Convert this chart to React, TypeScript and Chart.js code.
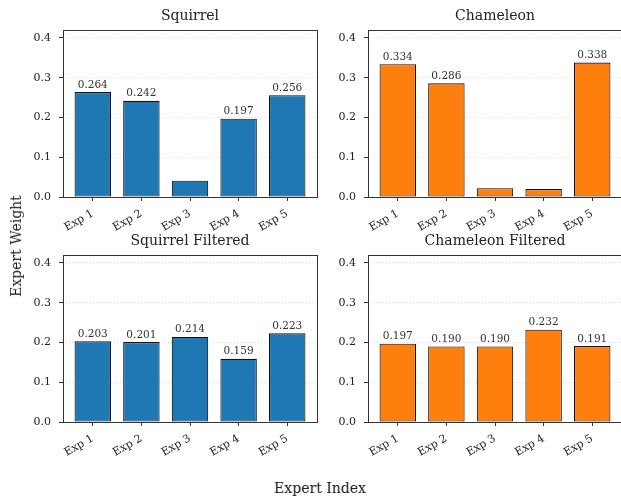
import React, { useEffect, useRef } from "react";
import { Chart, registerables } from "chart.js";

Chart.register(...registerables);

const categories = ["Exp 1", "Exp 2", "Exp 3", "Exp 4", "Exp 5"];
const squirrel = [0.264, 0.242, 0.041, 0.197, 0.256];
const chameleon = [0.334, 0.286, 0.022, 0.020, 0.338];
const squirrelFiltered = [0.203, 0.201, 0.214, 0.159, 0.223];
const chameleonFiltered = [0.197, 0.19, 0.19, 0.232, 0.191];
const yTicks = [0, 0.1, 0.2, 0.3, 0.4];
const Y_MAX = 0.42;
const X_MIN = -0.6125;
const X_MAX = 4.6125;
const LABEL_MIN = 0.05;

const FONT = "'DejaVu Serif', serif";
const BLUE = "#1f77b4";
const ORANGE = "#ff7f0e";

type PanelProps = {
  title: string;
  values: number[];
  color: string;
  left: number;
  top: number;
  width: number;
  height: number;
  padRight: number;
};

const framePlugin = {
  id: "frameAndLabels",
  afterDatasetsDraw(chart: any) {
    const ctx = chart.ctx;
    const meta = chart.getDatasetMeta(0);
    const data = chart.data.datasets[0].data as any[];
    ctx.save();
    ctx.font = `10.5px ${FONT}`;
    ctx.fillStyle = "#333";
    ctx.textAlign = "center";
    ctx.textBaseline = "bottom";
    meta.data.forEach((bar: any, i: number) => {
      const v = data[i].y;
      if (v > LABEL_MIN) {
        ctx.fillText(v.toFixed(3), bar.x, bar.y - 2);
      }
    });
    ctx.restore();
  },
  afterDraw(chart: any, _args: any, opts: any) {
    const ctx = chart.ctx;
    const a = chart.chartArea;
    ctx.save();
    ctx.strokeStyle = "#333";
    ctx.lineWidth = 1;
    const l = Math.round(a.left) + 0.5;
    const t = Math.round(a.top) + 0.5;
    const r = Math.round(a.right) + 0.5;
    const b = Math.round(a.bottom) + 0.5;
    ctx.strokeRect(l, t, r - l, b - t);
    ctx.font = `14px ${FONT}`;
    ctx.fillStyle = "#222";
    ctx.textAlign = "center";
    ctx.textBaseline = "alphabetic";
    ctx.fillText(opts.title, (a.left + a.right) / 2, a.top - 10);
    ctx.restore();
  },
};

function Panel({ title, values, color, left, top, width, height, padRight }: PanelProps) {
  const ref = useRef<HTMLCanvasElement | null>(null);
  useEffect(() => {
    if (!ref.current) return;
    const chart = new Chart(ref.current, {
      type: "bar",
      data: {
        datasets: [
          {
            data: values.map((v, i) => ({ x: i, y: v })),
            backgroundColor: color,
            borderColor: "#111",
            borderWidth: 1.1,
            borderSkipped: false,
            barPercentage: 0.75,
            categoryPercentage: 1,
          },
        ],
      },
      options: {
        animation: false,
        responsive: false,
        maintainAspectRatio: false,
        layout: { padding: { top: 30, right: padRight, left: 0, bottom: 0 }, autoPadding: false },
        plugins: {
          legend: { display: false },
          tooltip: { enabled: false },
          title: { display: false },
          frameAndLabels: { title },
        } as any,
        scales: {
          x: {
            type: "linear",
            min: X_MIN,
            max: X_MAX,
            offset: false,
            bounds: "data",
            afterBuildTicks: (scale: any) => {
              scale.ticks = categories.map((_, i) => ({ value: i }));
            },
            afterFit: (scale: any) => {
              scale.height = height - 197;
            },
            ticks: {
              autoSkip: false,
              includeBounds: false,
              stepSize: 1,
              minRotation: 30,
              maxRotation: 30,
              padding: 6,
              color: "#222",
              font: { family: FONT, size: 11 },
              callback: (v: any) => categories[Math.round(Number(v))] ?? "",
            },
            grid: {
              display: true,
              offset: false,
              drawOnChartArea: false,
              drawTicks: true,
              tickLength: 4,
              tickColor: "#333",
              tickWidth: 1,
            },
            border: { display: false },
          },
          y: {
            type: "linear",
            min: 0,
            max: Y_MAX,
            afterBuildTicks: (scale: any) => {
              scale.ticks = yTicks.map((v) => ({ value: v }));
            },
            afterFit: (scale: any) => {
              scale.width = 63;
            },
            ticks: {
              padding: 8,
              color: "#222",
              font: { family: FONT, size: 11 },
              callback: (v: any) => Number(v).toFixed(1),
            },
            grid: {
              display: true,
              drawOnChartArea: true,
              drawTicks: true,
              tickLength: 4,
              color: "rgba(0,0,0,0.18)",
              lineWidth: 0.8,
              tickColor: "#333",
              tickWidth: 1,
            },
            border: { display: false, dash: [1, 2] },
          },
        },
      },
      plugins: [framePlugin],
    } as any);
    return () => chart.destroy();
  }, [title, values, color, height, padRight]);

  return (
    <canvas
      ref={ref}
      width={width}
      height={height}
      style={{ position: "absolute", left, top, width, height }}
    />
  );
}

export default function App() {
  const H = 240;
  return (
    <div
      style={{
        position: "fixed",
        left: 0,
        top: 0,
        width: 621,
        height: 498,
        overflow: "hidden",
        background: "#fff",
      }}
    >
      <Panel title="Squirrel" values={squirrel} color={BLUE} left={0} top={0} width={318} height={H} padRight={1} />
      <Panel title="Chameleon" values={chameleon} color={ORANGE} left={305} top={0} width={317} height={H} padRight={0} />
      <Panel title="Squirrel Filtered" values={squirrelFiltered} color={BLUE} left={0} top={225} width={318} height={H} padRight={1} />
      <Panel title="Chameleon Filtered" values={chameleonFiltered} color={ORANGE} left={305} top={225} width={317} height={H} padRight={0} />
      <div
        style={{
          position: "absolute",
          left: 16,
          top: 246,
          transform: "translate(-50%, -50%) rotate(-90deg)",
          font: `14px ${FONT}`,
          color: "#222",
          whiteSpace: "nowrap",
          lineHeight: "16px",
        }}
      >
        Expert Weight
      </div>
      <div
        style={{
          position: "absolute",
          left: 320,
          top: 488,
          transform: "translate(-50%, -50%)",
          font: `14px ${FONT}`,
          color: "#222",
          whiteSpace: "nowrap",
          lineHeight: "16px",
        }}
      >
        Expert Index
      </div>
    </div>
  );
}
